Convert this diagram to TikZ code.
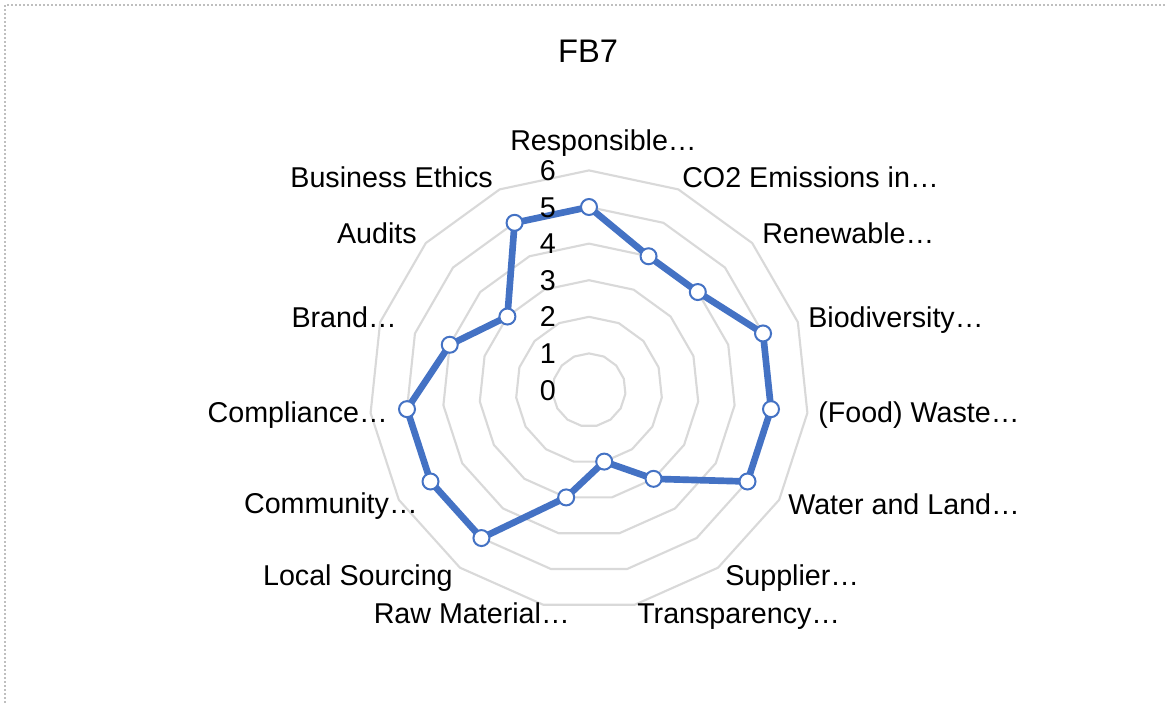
\documentclass[tikz,border=0pt]{standalone}
\usepackage{fontspec}
\setmainfont{Liberation Sans}
\definecolor{seriesblue}{HTML}{4472C4}
\definecolor{ringgray}{HTML}{D9D9D9}
\definecolor{framegray}{HTML}{BFBFBF}
\tikzset{
	ring/.style={draw=ringgray, line width=1.6pt, line join=round},
	series/.style={draw=seriesblue, line width=5pt, line join=round},
	dot/.style={circle, fill=white, draw=seriesblue, line width=1.5pt, minimum size=12pt, inner sep=0pt},
	lbl/.style={inner sep=0pt, font=\fontsize{21.5}{24}\selectfont},
}
\begin{document}
\begin{tikzpicture}[x=0.75pt, y=-0.75pt]
		\useasboundingbox (0,0) rectangle (1165,704);
		\draw[framegray, line width=0.8pt, dash pattern=on 1.5pt off 1.5pt] (1165,5) -- (5,5) -- (5,704);
		
		\node[lbl, anchor=base, font=\fontsize{24.5}{28}\selectfont] (title) at (588,62) {FB7};
		
		\begin{scope}[shift={(589,390)}, yscale=-1]
		% rings
		\foreach \l in {1,...,6}
			\draw[ring] (90:36.6*\l) \foreach \k in {1,...,14}{ -- (90-24*\k:36.6*\l) } -- cycle;
		% values
		\foreach \v [count=\k from 0] in {5,4,4,5,5,5,3,2,3,5,5,5,4,3,5}
			\coordinate (p\k) at (90-24*\k:36.6*\v);
		\draw[series] (p0) \foreach \k in {1,...,14}{ -- (p\k) } -- cycle;
		\foreach \k in {0,...,14}
			\node[dot] (m\k) at (p\k) {};
		\end{scope}
		
		% scale
		\foreach \n in {0,...,6}
			\node[lbl, anchor=base east] (s\n) at (556,400-36.6*\n) {\n};
		
		% categories
		\node[lbl, anchor=base west] (resp) at (510,150) {Responsible…};
		\node[lbl, anchor=base west] (co2) at (682,187) {CO2 Emissions in…};
		\node[lbl, anchor=base west] (renew) at (762,243) {Renewable…};
		\node[lbl, anchor=base west] (bio) at (808,327) {Biodiversity…};
		\node[lbl, anchor=base west] (waste) at (818,422) {(Food) Waste…};
		\node[lbl, anchor=base west] (water) at (788,514) {Water and Land…};
		\node[lbl, anchor=base west] (supp) at (725,585) {Supplier…};
		\node[lbl, anchor=base west] (transp) at (637,623) {Transparency…};
		\node[lbl, anchor=base east] (raw) at (570,623) {Raw Material…};
		\node[lbl, anchor=base east] (local) at (453,585) {Local Sourcing};
		\node[lbl, anchor=base east] (comm) at (418,513) {Community…};
		\node[lbl, anchor=base east] (compl) at (388,422) {Compliance…};
		\node[lbl, anchor=base east] (brand) at (397,327) {Brand…};
		\node[lbl, anchor=base east] (audits) at (417,243) {Audits};
		\node[lbl, anchor=base east] (ethics) at (493,187) {Business Ethics};
		
		\end{tikzpicture}
\end{document}
